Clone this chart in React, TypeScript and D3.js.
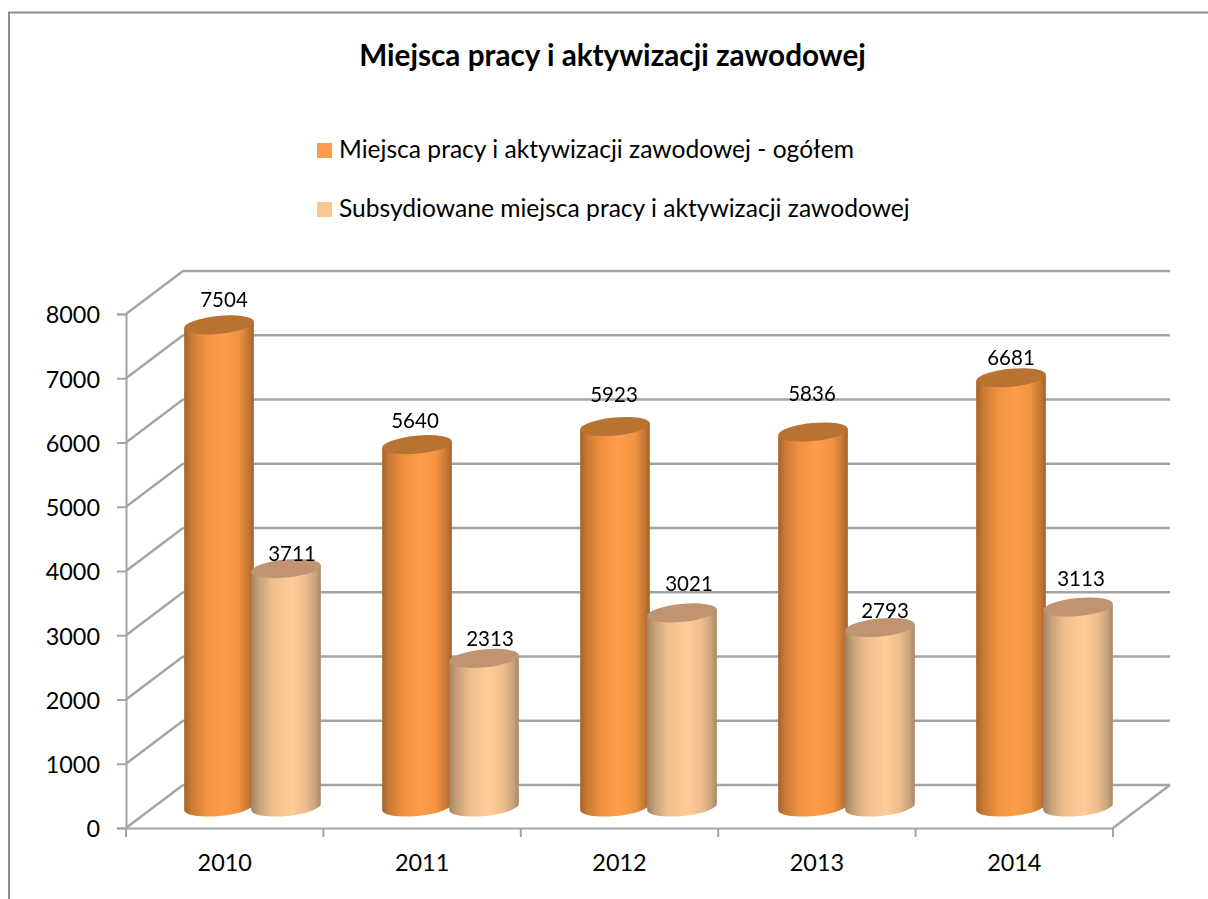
import React, { useEffect, useRef } from 'react';
import { select, scaleBand, scaleLinear, axisLeft, axisBottom, range } from 'd3';

const years = ['2010', '2011', '2012', '2013', '2014'];
const seriesNames = [
  'Miejsca pracy i aktywizacji zawodowej - ogółem',
  'Subsydiowane miejsca pracy i aktywizacji zawodowej',
];
const total = [7504, 5640, 5923, 5836, 6681];
const subsidised = [3711, 2313, 3021, 2793, 3113];
const yTicks = [0, 1000, 2000, 3000, 4000, 5000, 6000, 7000, 8000];

const FONT = 'Lato, sans-serif';
const GRID = '#a4a4a4';
const depth = { x: 57, y: -43 };
const barWidth = 70;
const rx = barWidth / 2;
const ry = 9;
const tilt = 5.5;
const dx = rx * Math.cos((tilt * Math.PI) / 180);
const dy = rx * Math.sin((tilt * Math.PI) / 180);

// data labels are placed by hand in the original, so nudges from the cylinder top
const nudgeTotal = [[5, -25], [-2, -24], [-1, -32], [-1, -38], [0, -20]];
const nudgeSub = [[6, -15], [6, -20], [7, -29], [5, -17], [3, -28]];

const App = () => {
  const svgRef = useRef<SVGSVGElement>(null);

  useEffect(() => {
    const svg = select(svgRef.current);
    svg.selectAll('*').remove();

    const defs = svg.append('defs');
    const addGradient = (id: string, stops: [number, string][]) => {
      defs.append('linearGradient').attr('id', id)
        .selectAll('stop').data(stops).join('stop')
        .attr('offset', d => d[0])
        .attr('stop-color', d => d[1]);
    };
    addGradient('cyl0', [[0, '#a5622b'], [0.1, '#c97a35'], [0.3, '#f0913f'], [0.55, '#ff9d49'], [0.78, '#f2933f'], [0.92, '#c67834'], [1, '#a5622b']]);
    addGradient('cyl1', [[0, '#a2845f'], [0.12, '#c8a279'], [0.3, '#efbe8e'], [0.58, '#ffcb98'], [0.78, '#eebd8e'], [0.92, '#c9a37c'], [1, '#a88868']]);
    // the original is a scaled screenshot, marks have soft edges
    defs.append('filter').attr('id', 'soft').attr('filterUnits', 'userSpaceOnUse')
      .attr('x', 0).attr('y', 0).attr('width', 1208).attr('height', 899)
      .append('feGaussianBlur').attr('stdDeviation', 0.5);

    // Scales and axes
    const xScale = scaleBand().domain(years).range([126, 1113]);
    const yScale = scaleLinear().domain([0, 8000]).range([828, 314]);
    const barGroup = scaleBand().domain(years).range([153.5, 1143.5]);
    const barSeries = scaleBand().domain(seriesNames).range([-67, 67]);
    const barBase = yScale(0) - 21;

    // frame
    svg.append('path').attr('d', 'M9,899V12.5H1208').attr('fill', 'none').attr('stroke', '#8c8c8c').attr('stroke-width', 2);

    // Title
    svg.append('text').attr('x', 612.5).attr('y', 66).attr('text-anchor', 'middle')
      .attr('font-family', FONT).attr('font-weight', 700).attr('font-size', 29.7).attr('fill', '#000')
      .text('Miejsca pracy i aktywizacji zawodowej');

    // Legend
    const legendY = [143, 202];
    const legendColors = ['#ff9a4a', '#fdc594'];
    const legend = svg.append('g').selectAll('g').data(seriesNames).join('g')
      .attr('transform', (_, i) => `translate(317, ${legendY[i]})`);
    legend.append('rect').attr('width', 15).attr('height', 15).attr('fill', (_, i) => legendColors[i]);
    legend.append('text').attr('x', 22).attr('y', 15)
      .attr('font-family', FONT).attr('font-size', 24.6).attr('fill', '#000').text(d => d);

    // Grid: side wall and back wall
    const grid = svg.append('g').attr('stroke', GRID).attr('stroke-width', 2.4).attr('fill', 'none').attr('filter', 'url(#soft)');
    grid.selectAll('.side').data(yTicks).join('line').attr('class', 'side')
      .attr('x1', 126).attr('y1', d => yScale(d))
      .attr('x2', 126 + depth.x).attr('y2', d => yScale(d) + depth.y);
    grid.selectAll('.back').data(yTicks).join('line').attr('class', 'back')
      .attr('x1', 126 + depth.x).attr('y1', d => yScale(d) + depth.y)
      .attr('x2', 1113 + depth.x).attr('y2', d => yScale(d) + depth.y);
    grid.append('line').attr('x1', 1113).attr('y1', yScale(0))
      .attr('x2', 1113 + depth.x).attr('y2', yScale(0) + depth.y);

    // Y axis
    const yAxis = axisLeft(yScale).tickValues(yTicks).tickFormat(d => String(d)).tickSize(9).tickPadding(17);
    const yG = svg.append('g').attr('transform', 'translate(126, 0)').call(yAxis);
    yG.selectAll('.tick').select('text').attr('dy', '0.38em');

    // X axis, ticks sit between the categories
    const xAxis = axisBottom(xScale).tickSize(0).tickPadding(26);
    const xG = svg.append('g').attr('transform', `translate(0, ${yScale(0)})`).call(xAxis);
    xG.selectAll('.tick').select('text').attr('dy', '0.71em');
    svg.append('g').selectAll('line').data(range(years.length + 1)).join('line')
      .attr('x1', i => 126 + i * xScale.step()).attr('x2', i => 126 + i * xScale.step())
      .attr('y1', yScale(0)).attr('y2', yScale(0) + 9)
      .attr('stroke', GRID).attr('stroke-width', 2);

    [yG, xG].forEach(g => {
      g.selectAll('.domain').attr('stroke', GRID).attr('stroke-width', 2);
      g.selectAll('.tick line').attr('stroke', GRID).attr('stroke-width', 2);
      g.selectAll('text').attr('font-family', FONT).attr('font-size', 23.4).attr('fill', '#000');
    });

    // Cylinders
    const seriesValues = [total, subsidised];
    const topColors = ['#b87232', '#c0946f'];
    const bars = svg.append('g').attr('filter', 'url(#soft)');
    seriesValues.forEach((values, s) => {
      const g = bars.append('g').selectAll('g').data(values).join('g')
        .attr('transform', (_, i) => {
          const cx = barGroup(years[i])! + barGroup.bandwidth() / 2 + barSeries(seriesNames[s])! + barSeries.bandwidth() / 2;
          return `translate(${cx}, 0)`;
        });
      g.append('path')
        .attr('fill', `url(#cyl${s})`)
        .attr('d', d => {
          const top = barBase - (yScale(0) - yScale(d));
          return `M${-dx},${top + dy}L${-dx},${barBase + dy}A${rx},${ry} ${-tilt} 0 0 ${dx},${barBase - dy}L${dx},${top - dy}Z`;
        });
      g.append('ellipse')
        .attr('rx', rx).attr('ry', ry).attr('fill', topColors[s])
        .attr('transform', d => `translate(0, ${barBase - (yScale(0) - yScale(d))}) rotate(${-tilt})`);
    });

    // Data labels
    const labels = svg.append('g').attr('font-family', FONT).attr('font-size', 20.5).attr('fill', '#000').attr('text-anchor', 'middle');
    seriesValues.forEach((values, s) => {
      const nudges = s === 0 ? nudgeTotal : nudgeSub;
      labels.append('g').selectAll('text').data(values).join('text')
        .attr('x', (_, i) => barGroup(years[i])! + barGroup.bandwidth() / 2 + barSeries(seriesNames[s])! + barSeries.bandwidth() / 2 + nudges[i][0])
        .attr('y', (d, i) => barBase - (yScale(0) - yScale(d)) + nudges[i][1])
        .attr('dy', '0.35em')
        .text(d => d);
    });
  }, []);

  return <svg ref={svgRef} width={1208} height={899} style={{ position: 'absolute', left: 0, top: 0, background: '#fff' }} />;
};

export default App;
